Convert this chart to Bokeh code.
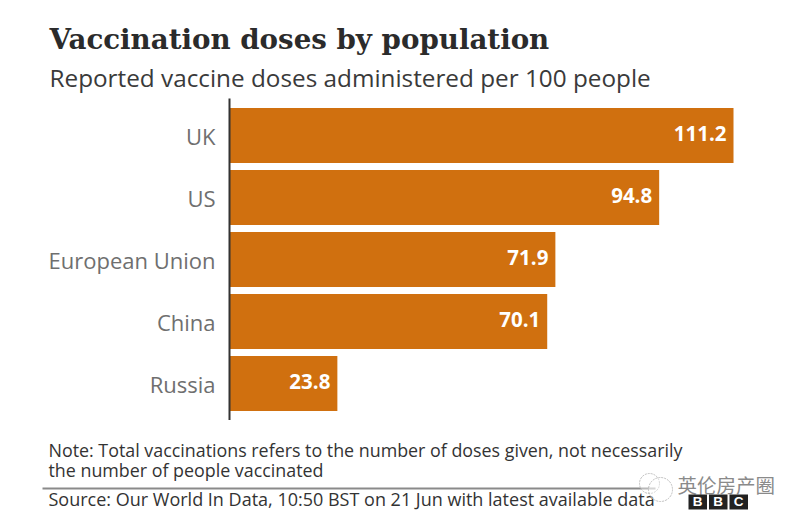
from bokeh.plotting import figure
from bokeh.layouts import column
from bokeh.models import FactorRange, Range1d, ColumnDataSource
from bokeh.core.properties import value
from bokeh.embed import file_html
from bokeh.resources import INLINE

countries = ["UK", "US", "European Union", "China", "Russia"]
doses = [111.2, 94.8, 71.9, 70.1, 23.8]
labels = ["111.2", "94.8", "71.9", "70.1", "23.8"]

title = "Vaccination doses by population"
subtitle = "Reported vaccine doses administered per 100 people"
note1 = "Note: Total vaccinations refers to the number of doses given, not necessarily"
note2 = "the number of people vaccinated"
source_text = "Source: Our World In Data, 10:50 BST on 21 Jun with latest available data"
watermark = "英伦房产圈"

W, H = 800, 521
FL, FT, FR, FB = 229, 98, 792, 420   # frame edges in window pixels
ORANGE = "#D0700F"
SANS = "Open Sans"


def pixel_panel(y0, y1):
    f = figure(width=W, height=y1 - y0, output_backend="svg", toolbar_location=None,
               x_range=Range1d(0, W), y_range=Range1d(y1, y0),
               min_border_left=0, min_border_right=0, min_border_top=0, min_border_bottom=0,
               background_fill_color="white", border_fill_color="white", outline_line_color=None)
    f.xaxis.visible = False
    f.yaxis.visible = False
    f.xgrid.visible = False
    f.ygrid.visible = False
    return f


def lab(f, px, py, text, size, color="#333333", font=SANS, style="normal", align="left"):
    f.text(x=[px], y=[py], text=[text], text_font=value(font), text_font_size=f"{size}px", text_color=color,
           text_font_style=style, text_align=align, text_baseline="middle")


# header
top = pixel_panel(0, FT)
lab(top, 49, 39, title, 27.7, "#2b2b2b", "DejaVu Serif", "bold")
lab(top, 49, 77, subtitle, 24.3, "#3a3a3a")

# chart
p = figure(width=W, height=FB - FT, output_backend="svg", toolbar_location=None,
           y_range=FactorRange(factors=countries[::-1], range_padding=6 / 62, range_padding_units="absolute"),
           x_range=Range1d(0, (FR - FL) / (504 / 111.2)),
           min_border_left=FL, min_border_right=W - FR, min_border_top=0,
           min_border_bottom=0, background_fill_color="white", border_fill_color="white",
           outline_line_color=None)
p.xaxis.visible = False
p.xgrid.visible = False
p.ygrid.visible = False

ax = p.yaxis[0]
ax.axis_line_color = "#333333"
ax.axis_line_width = 2
ax.major_tick_line_color = None
ax.minor_tick_line_color = None
ax.major_label_standoff = 8
ax.major_label_text_font = SANS
ax.major_label_text_font_size = "22px"
ax.major_label_text_color = "#6f6f6f"
ax.major_label_text_line_height = 0.9

src = ColumnDataSource(dict(y=countries, x=doses, t=labels))
p.hbar(y="y", right="x", left=0, height=55 / 62, source=src, fill_color=ORANGE, line_color=None)
p.text(x="x", y="y", text="t", source=src, x_offset=-7, y_offset=-2, text_align="right", text_baseline="middle",
       text_color="white", text_font=value(SANS), text_font_style="bold", text_font_size="20.5px")

# footer
bot = pixel_panel(FB, H)
lab(bot, 48, 449, note1, 17.85)
lab(bot, 48, 469, note2, 17.85)
bot.quad(left=[42], right=[655], top=[487], bottom=[489], fill_color="#8a8a8a", line_color=None)
lab(bot, 48, 498, source_text, 18)
bot.circle(x=[649, 660], y=[483, 489], radius=[10, 12], fill_color="white", fill_alpha=0.4,
           line_color="#bdbdbd", line_width=1, line_dash="2 1")
lab(bot, 677, 484, watermark, 19.5, "#8a8a8a", "Noto Sans CJK SC")
for i, ch in enumerate("BBC"):
    x0 = 688 + i * 20.5
    bot.quad(left=[x0], right=[x0 + 18.5], top=[494], bottom=[509], fill_color="#222222", line_color=None)
    lab(bot, x0 + 9.2, 501, ch, 13.5, "white", "Liberation Sans", "bold", "center")

page = column(column(top), column(p), column(bot), spacing=0)
open("out.html", "w").write(file_html(page, INLINE))
